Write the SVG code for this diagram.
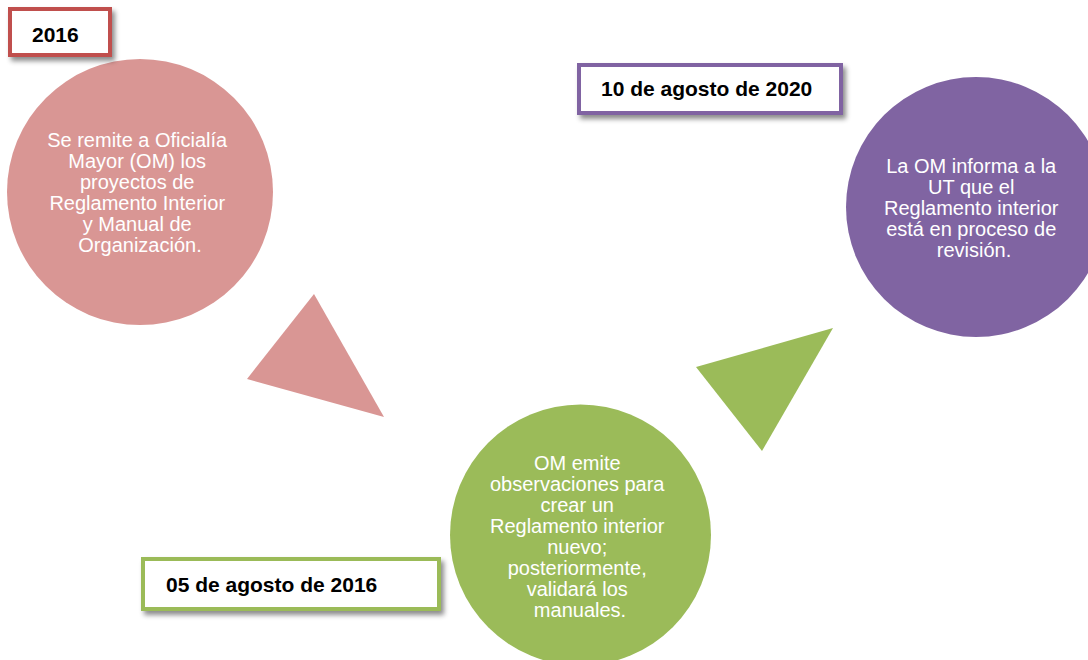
<svg xmlns="http://www.w3.org/2000/svg" width="1088" height="660" viewBox="0 0 1088 660">
  <defs>
    <filter id="sh" x="-10%" y="-20%" width="130%" height="160%">
      <feDropShadow dx="3" dy="4" stdDeviation="2.5" flood-color="#000" flood-opacity="0.45"/>
    </filter>
  </defs>
  <style>
    .ct { font-family: "Liberation Sans", Arial, sans-serif; font-size: 20px; fill: #ffffff; text-anchor: middle; }
    .lb { font-family: "Liberation Sans", Arial, sans-serif; font-size: 21px; font-weight: bold; fill: #000000; }
    .box { fill: #ffffff; stroke-width: 4; filter: url(#sh); }
  </style>
  <rect width="1088" height="660" fill="#ffffff"/>

  <g id="connectors">
    <polygon points="314,294 247,379 384,417" fill="#D99694"/>
    <polygon points="696,367 833,328 762,451" fill="#9BBB59"/>
  </g>

  <g id="node-2016">
    <circle cx="140" cy="192" r="133" fill="#D99694"/>
    <text class="ct">
      <tspan x="140" y="147">Se remite a Oficialía</tspan>
      <tspan x="140" y="168">Mayor (OM) los</tspan>
      <tspan x="140" y="189">proyectos de</tspan>
      <tspan x="140" y="210">Reglamento Interior</tspan>
      <tspan x="140" y="231">y Manual de</tspan>
      <tspan x="140" y="252">Organización.</tspan>
    </text>
  </g>

  <g id="node-2020">
    <circle cx="976" cy="207" r="130" fill="#8064A2"/>
    <text class="ct">
      <tspan x="974" y="173">La OM informa a la</tspan>
      <tspan x="974" y="194">UT que el</tspan>
      <tspan x="974" y="215">Reglamento interior</tspan>
      <tspan x="974" y="236">está en proceso de</tspan>
      <tspan x="974" y="257">revisión.</tspan>
    </text>
  </g>

  <g id="node-ago2016">
    <circle cx="580.5" cy="535" r="130.5" fill="#9BBB59"/>
    <text class="ct">
      <tspan x="580" y="470">OM emite</tspan>
      <tspan x="580" y="491">observaciones para</tspan>
      <tspan x="580" y="512">crear un</tspan>
      <tspan x="580" y="533">Reglamento interior</tspan>
      <tspan x="580" y="554">nuevo;</tspan>
      <tspan x="580" y="575">posteriormente,</tspan>
      <tspan x="580" y="596">validará los</tspan>
      <tspan x="580" y="617">manuales.</tspan>
    </text>
  </g>

  <g id="label-2016">
    <rect class="box" x="10" y="9" width="100" height="46" stroke="#C0504D"/>
    <text class="lb" x="32" y="42">2016</text>
  </g>

  <g id="label-2020">
    <rect class="box" x="579" y="65" width="262" height="48" stroke="#8064A2"/>
    <text class="lb" x="601" y="96">10 de agosto de 2020</text>
  </g>

  <g id="label-ago2016">
    <rect class="box" x="143" y="559" width="296" height="50" stroke="#9BBB59"/>
    <text class="lb" x="166" y="592">05 de agosto de 2016</text>
  </g>
</svg>
